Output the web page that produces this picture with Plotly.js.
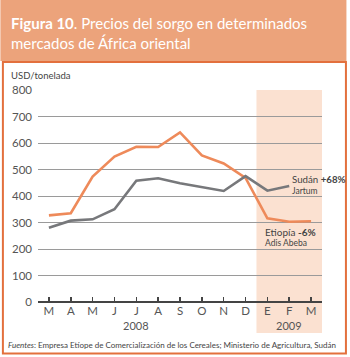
<!DOCTYPE html>
<html>
<head>
<meta charset="utf-8">
<script src="https://cdn.plot.ly/plotly-3.0.1.min.js"></script>
<style>
html,body{margin:0;padding:0;background:#fff;}
#chart{width:350px;height:357px;}
</style>
</head>
<body>
<div id="chart"></div>
<script>
// Data
const monthLabels = ["M","A","M","J","J","A","S","O","N","D","E","F","M"];
const monthIndex = [0,1,2,3,4,5,6,7,8,9,10,11,12];
const etiopia = [327, 335, 473, 549, 586, 585, 640, 553, 523, 468, 316, 303, 305];
const sudan   = [280, 307, 312, 350, 458, 467, 448, 433, 419, 475, 420, 438, null];
const yTicks = [0,100,200,300,400,500,600,700,800];

const FONT = "Lato, Open Sans, sans-serif";
const W = 350, H = 357;
const L = 37.7, R = 350 - 322.5, T = 90, B = 357 - 302;
const plotH = H - T - B;
function py(pix){ return (H - B - pix) / plotH; } // pixel y -> paper y
function px(pix){ return (pix - L) / (W - L - R); }

const traces = [
  {x: monthIndex, y: etiopia, type: 'scatter', mode: 'lines',
   line: {color: '#EE8A5A', width: 2.6}, hoverinfo: 'skip'},
  {x: monthIndex, y: sudan, type: 'scatter', mode: 'lines',
   line: {color: '#77787B', width: 2.6}, hoverinfo: 'skip'}
];

const layout = {
  width: W, height: H,
  margin: {l: L, r: R, t: T, b: B, pad: 0},
  paper_bgcolor: '#ffffff', plot_bgcolor: 'rgba(0,0,0,0)',
  showlegend: false,
  font: {family: FONT, color: '#444', size: 11},
  xaxis: {
    range: [-0.5, 12.5], tickmode: 'array', tickvals: monthIndex, ticktext: monthLabels,
    showgrid: false, zeroline: false, showline: false,
    ticks: 'inside', ticklen: 5, tickwidth: 1.5, tickcolor: '#444',
    tickfont: {family: FONT, size: 11.5, color: '#555'}, fixedrange: true
  },
  yaxis: {
    range: [0, 800], tickmode: 'array', tickvals: yTicks,
    showgrid: true, gridcolor: '#9a9a9a', gridwidth: 1,
    zeroline: true, zerolinecolor: '#444', zerolinewidth: 2,
    showline: false, ticks: '', ticklabelstandoff: 5,
    tickfont: {family: FONT, size: 11.5, color: '#555'}, fixedrange: true
  },
  shapes: [
    // title band
    {type: 'rect', xref: 'paper', yref: 'paper', x0: px(0), x1: px(347), y0: py(61), y1: py(0),
     fillcolor: '#ECA37B', line: {width: 0}, layer: 'below'},
    // frame
    {type: 'rect', xref: 'paper', yref: 'paper', x0: px(2.5), x1: px(346.5), y0: py(353.5), y1: py(62),
     fillcolor: 'rgba(0,0,0,0)', line: {color: '#E3703D', width: 2}, layer: 'below'},
    // 2009 shaded band
    {type: 'rect', xref: 'x', yref: 'paper', x0: 9.5, x1: 12.5, y0: py(333), y1: 1,
     fillcolor: '#FBE1D1', line: {width: 0}, layer: 'below'}
  ],
  annotations: [
    {xref: 'paper', yref: 'paper', x: px(9), y: py(32.5), xanchor: 'left', yanchor: 'middle',
     text: '<b>Figura 10</b>. Precios del sorgo en determinados<br>mercados de África oriental', showarrow: false,
     font: {family: FONT, size: 15, color: '#ffffff'}, align: 'left'},
    {xref: 'paper', yref: 'paper', x: px(9), y: py(76), xanchor: 'left', yanchor: 'middle',
     text: 'USD/tonelada', showarrow: false, font: {family: FONT, size: 9.5, color: '#444'}},
    {xref: 'x', yref: 'paper', x: 4, y: py(325), xanchor: 'center', yanchor: 'middle',
     text: '2008', showarrow: false, font: {family: FONT, size: 11, color: '#555'}},
    {xref: 'x', yref: 'paper', x: 11, y: py(325), xanchor: 'center', yanchor: 'middle',
     text: '2009', showarrow: false, font: {family: FONT, size: 11, color: '#555'}},
    {xref: 'x', yref: 'y', x: 11.05, y: 466, xanchor: 'left', yanchor: 'middle',
     text: 'Sudán <b>+68%</b>', showarrow: false, font: {family: FONT, size: 9.7, color: '#444'}},
    {xref: 'x', yref: 'y', x: 11.05, y: 418, xanchor: 'left', yanchor: 'middle',
     text: 'Jartum', showarrow: false, font: {family: FONT, size: 8.5, color: '#444'}},
    {xref: 'x', yref: 'y', x: 9.8, y: 265, xanchor: 'left', yanchor: 'middle',
     text: 'Etiopía <b>-6%</b>', showarrow: false, font: {family: FONT, size: 10, color: '#444'}},
    {xref: 'x', yref: 'y', x: 9.8, y: 222, xanchor: 'left', yanchor: 'middle',
     text: 'Adis Abeba', showarrow: false, font: {family: FONT, size: 8.5, color: '#444'}},
    {xref: 'paper', yref: 'paper', x: px(6), y: py(345), xanchor: 'left', yanchor: 'middle',
     text: '<i>Fuentes</i>: Empresa Etíope de Comercialización de los Cereales; Ministerio de Agricultura, Sudán',
     showarrow: false, font: {family: FONT, size: 8, color: '#444'}}
  ]
};

Plotly.newPlot('chart', traces, layout, {displayModeBar: false, staticPlot: true});
</script>
</body>
</html>
